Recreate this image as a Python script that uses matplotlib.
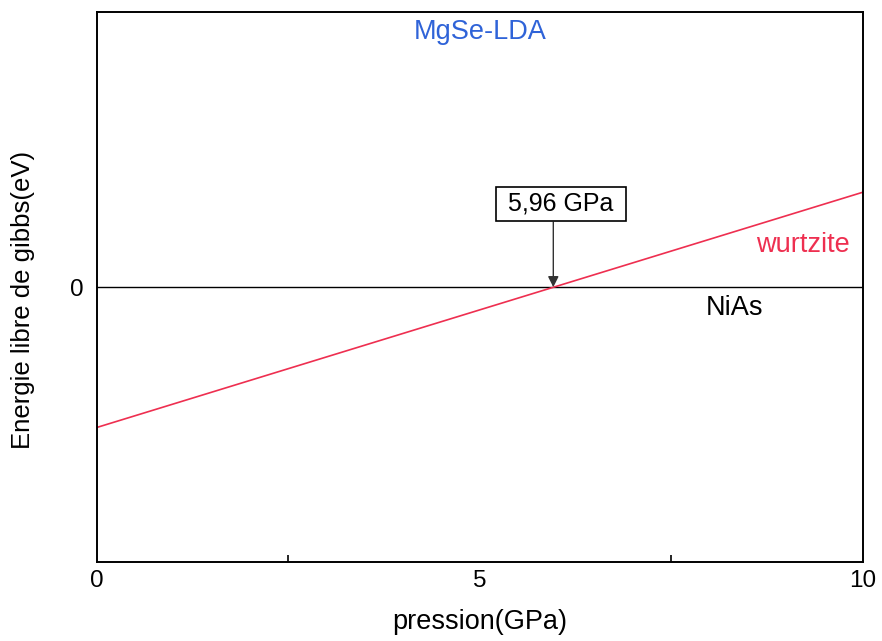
import matplotlib
matplotlib.use("Agg")
import matplotlib.pyplot as plt
from matplotlib.ticker import FixedLocator

# pression (GPa) et energie libre relative a NiAs (eV)
pression = [0.0, 10.0]
g_nias = [0.0, 0.0]
g_wurtzite = [-0.102, 0.069]
p_transition = 5.96

plt.rcParams['font.family'] = ['Liberation Sans', 'DejaVu Sans']

fig = plt.figure(figsize=(8.82, 6.41), dpi=100)
ax = fig.add_axes([0.110, 0.123, 0.868, 0.858])

ax.plot(pression, g_nias, color='black', lw=1.0)
ax.plot(pression, g_wurtzite, color='#ee2f50', lw=1.2)

ax.set_xlim(0, 10)
ax.set_ylim(-0.2, 0.2)

ax.set_xticks([0, 5, 10])
ax.xaxis.set_minor_locator(FixedLocator([2.5, 5, 7.5]))
ax.tick_params(axis='x', which='major', length=0, pad=6, labelsize=17.5)
ax.tick_params(axis='x', which='minor', direction='in', length=5, width=1.2)
ax.set_yticks([0])
ax.tick_params(axis='y', length=0, pad=10, labelsize=17.5)
for s in ax.spines.values():
    s.set_linewidth(1.4)

ax.set_xlabel('pression(GPa)', fontsize=19.5, labelpad=12)
ax.set_ylabel('Energie libre de gibbs(eV)', fontsize=18.5, labelpad=25)
ax.yaxis.label.set_y(0.476)

ax.text(0.5, 0.964, 'MgSe-LDA', transform=ax.transAxes, ha='center', va='center',
        color='#2f63d8', fontsize=19.5)
ax.text(9.83, 0.031, 'wurtzite', ha='right', va='center', color='#ee2f50', fontsize=19.5)
ax.text(8.33, -0.0153, 'NiAs', ha='center', va='center', color='black', fontsize=19.5)

# etiquette de la pression de transition + fleche vers le croisement
ax.text(6.06, 0.0607, ' 5,96 GPa ', ha='center', va='center', fontsize=18,
        bbox=dict(boxstyle='square,pad=0.2', fc='white', ec='black', lw=1.2), zorder=4)
ax.annotate('', xy=(p_transition, 0), xytext=(p_transition, 0.0473),
            arrowprops=dict(arrowstyle='-|>', color='#333333', lw=1.0,
                            mutation_scale=16, shrinkA=0, shrinkB=0))

fig.savefig('out.png', dpi=100)
